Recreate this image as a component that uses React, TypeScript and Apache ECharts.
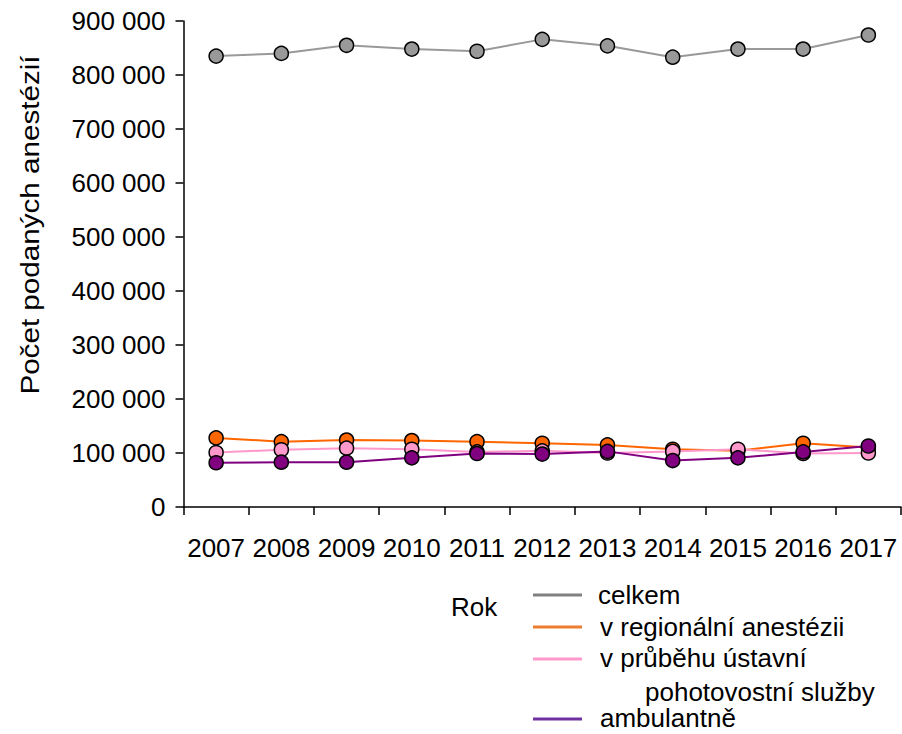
import React, { useEffect, useRef } from "react";
import * as echarts from "echarts";

const years = ["2007", "2008", "2009", "2010", "2011", "2012", "2013", "2014", "2015", "2016", "2017"];
const celkem = [835000, 840000, 855000, 848000, 844000, 866000, 854000, 833000, 848000, 848000, 874000];
const regionalni = [128000, 121000, 124000, 123000, 121000, 118000, 115000, 107000, 104000, 118000, 110000];
const pohotovost = [101000, 106000, 109000, 107000, 102000, 104000, 100000, 103000, 107000, 99000, 100000];
const ambulantne = [82000, 83000, 83000, 91000, 99000, 98000, 103000, 86000, 91000, 102000, 113000];

const seriesNames = ["celkem", "v regionální anestézii", "v průběhu ústavní pohotovostní služby", "ambulantně"];
const lineColors = ["#999999", "#ff6600", "#ff99cc", "#800080"];
const legendColors = ["#808080", "#ed7d31", "#ff99cc", "#7030a0"];

const FONT = "'Liberation Sans', Arial, sans-serif";

export default function App() {
  const ref = useRef<HTMLDivElement>(null);
  useEffect(() => {
    if (!ref.current) return;
    const chart = echarts.init(ref.current, undefined, { renderer: "svg" });
    const datas = [celkem, regionalni, pohotovost, ambulantne];
    const fmt = (v: number) => String(v).replace(/\B(?=(\d{3})+(?!\d))/g, " ");
    const legendY = [595, 627, 659, 719];
    const textStyle = { fill: "#000", fontSize: 26, fontFamily: FONT, textVerticalAlign: "middle" };
    chart.setOption({
      animation: false,
      backgroundColor: "#ffffff",
      grid: { left: 183.5, right: 1, top: 21, bottom: 227, containLabel: false },
      xAxis: {
        type: "category",
        data: years,
        boundaryGap: true,
        axisLine: { lineStyle: { color: "#000", width: 1.5 } },
        axisTick: { show: true, length: 8, lineStyle: { color: "#000", width: 1.5 } },
        axisLabel: { interval: 0, color: "#000", fontSize: 26, fontFamily: FONT, margin: 28 },
        splitLine: { show: false },
      },
      yAxis: {
        type: "value",
        min: 0,
        max: 900000,
        interval: 100000,
        axisLine: { show: true, lineStyle: { color: "#000", width: 1.5 } },
        axisTick: { show: true, length: 8, lineStyle: { color: "#000", width: 1.5 } },
        axisLabel: { color: "#000", fontSize: 26, fontFamily: FONT, margin: 18, formatter: fmt },
        splitLine: { show: false },
      },
      series: datas.map((d, i) => ({
        name: seriesNames[i],
        type: "line",
        data: d,
        symbol: "circle",
        symbolSize: 14,
        lineStyle: { color: lineColors[i], width: 2 },
        itemStyle: { color: lineColors[i], borderColor: "#000", borderWidth: 1.5 },
      })),
      graphic: [
        {
          type: "text",
          x: 30,
          y: 225,
          rotation: Math.PI / 2,
          scaleX: 1.14,
          style: { text: "Počet podaných anestézií", fill: "#000", fontSize: 26, fontFamily: FONT, textAlign: "center", textVerticalAlign: "middle" },
        },
        { type: "text", x: 451, y: 607, style: { ...textStyle, text: "Rok" } },
        ...legendY.map((y, i) => ({
          type: "line",
          shape: { x1: 533, y1: y, x2: 582, y2: y },
          style: { stroke: legendColors[i], lineWidth: 3 },
        })),
        { type: "text", x: 598, y: 595, style: { ...textStyle, text: "celkem" } },
        { type: "text", x: 600, y: 627, style: { ...textStyle, text: "v regionální anestézii" } },
        { type: "text", x: 600, y: 658, style: { ...textStyle, text: "v průběhu ústavní" } },
        { type: "text", x: 645, y: 692, style: { ...textStyle, text: "pohotovostní služby" } },
        { type: "text", x: 600, y: 718, style: { ...textStyle, text: "ambulantně" } },
      ],
    });
    return () => chart.dispose();
  }, []);
  return <div ref={ref} style={{ position: "fixed", left: 0, top: 0, width: 902, height: 734 }} />;
}
